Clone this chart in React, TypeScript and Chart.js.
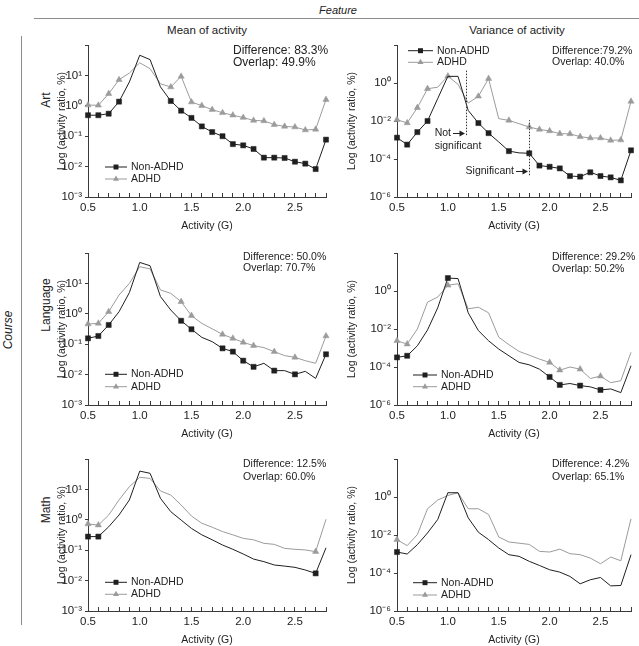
import React, { useEffect, useRef } from 'react';
import { Chart, registerables } from 'chart.js';

Chart.register(...registerables);

const FONT = '"Liberation Sans", Arial, Helvetica, sans-serif';
Chart.defaults.font.family = FONT;
Chart.defaults.color = '#222';

// ---------------- data ----------------
const activity = [0.5, 0.6, 0.7, 0.8, 0.9, 1.0, 1.1, 1.2, 1.3, 1.4, 1.5, 1.6, 1.7, 1.8, 1.9, 2.0, 2.1, 2.2, 2.3, 2.4, 2.5, 2.6, 2.7, 2.8];
const activityLabels = ['0.5', '1.0', '1.5', '2.0', '2.5'];

const seriesNames = ['Non-ADHD', 'ADHD'];
const columnTitles = ['Mean of activity', 'Variance of activity'];
const rowTitles = ['Art', 'Language', 'Math'];

const meanArtNonAdhd = [0.49, 0.49, 0.55, 1.37, 6.1, 46, 33, 4.2, 1.44, 0.69, 0.40, 0.21, 0.137, 0.10, 0.055, 0.050, 0.038, 0.0197, 0.0197, 0.0192, 0.0145, 0.0125, 0.0083, 0.077];
const meanArtAdhd = [1.06, 1.04, 2.5, 7.2, 12, 26, 16.6, 5.3, 4.15, 9.3, 1.33, 1.01, 0.75, 0.59, 0.49, 0.41, 0.33, 0.32, 0.24, 0.21, 0.20, 0.16, 0.168, 1.6];

const varArtNonAdhd = [1.33e-3, 5.7e-4, 2.6e-3, 1.0e-2, 0.15, 2.24, 2.24, 0.036, 7.8e-3, 2.3e-3, 7.9e-4, 2.6e-4, 2.1e-4, 2.0e-4, 4.5e-5, 3.9e-5, 3.2e-5, 1.27e-5, 1.18e-5, 2.0e-5, 1.27e-5, 1.08e-5, 7.5e-6, 2.86e-4];
const varArtAdhd = [0.0117, 7.9e-3, 0.05, 0.5, 0.6, 2.3, 0.85, 0.088, 0.2, 1.7, 0.0133, 0.0108, 7.2e-3, 4.8e-3, 3.6e-3, 3.0e-3, 2.15e-3, 2.1e-3, 1.5e-3, 1.27e-3, 1.27e-3, 9.6e-4, 1.0e-3, 0.108];

const meanLangNonAdhd = [0.156, 0.186, 0.43, 1.17, 5.0, 49, 38, 3.7, 1.33, 0.59, 0.31, 0.168, 0.121, 0.073, 0.057, 0.0287, 0.018, 0.0235, 0.0135, 0.0135, 0.0102, 0.0128, 0.0075, 0.0466];
const meanLangAdhd = [0.46, 0.485, 1.17, 4.15, 10, 35.5, 29.8, 6.1, 4.7, 2.5, 0.87, 0.485, 0.32, 0.21, 0.156, 0.115, 0.09, 0.077, 0.057, 0.042, 0.037, 0.0287, 0.0235, 0.186];

const varLangNonAdhd = [3.2e-4, 3.9e-4, 1.3e-3, 8.9e-3, 0.13, 4.8, 4.5, 0.071, 8.2e-3, 2.4e-3, 8.8e-4, 3.9e-4, 1.74e-4, 1.3e-4, 7.7e-5, 3.0e-5, 1.14e-5, 1.35e-5, 1.05e-5, 9e-6, 6.2e-6, 7e-6, 4.5e-6, 1.16e-4];
const varLangAdhd = [2.4e-3, 1.6e-3, 0.01, 0.26, 0.48, 2.0, 2.4, 0.115, 0.14, 0.071, 3.7e-3, 1.5e-3, 6.6e-4, 4.2e-4, 2.6e-4, 1.74e-4, 6.8e-5, 1.0e-4, 7.7e-5, 2.5e-5, 3.3e-5, 1.5e-5, 1.9e-5, 5.9e-4];

const meanMathNonAdhd = [0.28, 0.28, 0.59, 1.44, 4.5, 40, 33.8, 5.1, 1.85, 0.98, 0.52, 0.32, 0.22, 0.148, 0.107, 0.075, 0.051, 0.042, 0.0326, 0.030, 0.0273, 0.0223, 0.0173, 0.12];
const meanMathAdhd = [0.73, 0.67, 1.44, 4.5, 12.3, 25, 23, 8.9, 6.5, 3.07, 1.33, 0.77, 0.57, 0.41, 0.32, 0.245, 0.22, 0.168, 0.156, 0.115, 0.107, 0.102, 0.0895, 1.04];

const varMathNonAdhd = [1.27e-3, 1.0e-3, 3.1e-3, 0.0128, 0.065, 1.68, 1.68, 0.08, 0.014, 5.7e-3, 2.07e-3, 9.2e-4, 7.5e-4, 4.1e-4, 2.5e-4, 1.48e-4, 1.11e-4, 6.6e-5, 2.7e-5, 4.4e-5, 5.8e-5, 2.1e-5, 2.2e-5, 9.2e-4];
const varMathAdhd = [5.7e-3, 2.75e-3, 0.0105, 0.24, 0.69, 1.2, 1.68, 0.24, 0.24, 0.12, 7.9e-3, 4.3e-3, 3.7e-3, 3.2e-3, 1.38e-3, 1.27e-3, 1.8e-3, 1.04e-3, 9.2e-4, 6.1e-4, 3.07e-4, 6.9e-4, 4.4e-4, 0.071];

const meanTicks = [1e-3, 1e-2, 1e-1, 1, 10, 100];
const varianceTicks = [1e-6, 1e-4, 1e-2, 1, 100];

const differenceTexts = ['Difference: 83.3%', 'Difference:79.2%', 'Difference: 50.0%', 'Difference: 29.2%', 'Difference: 12.5%', 'Difference: 4.2%'];
const overlapTexts = ['Overlap: 49.9%', 'Overlap: 40.0%', 'Overlap: 70.7%', 'Overlap: 50.2%', 'Overlap: 60.0%', 'Overlap: 65.1%'];

// annotation (Art / variance): dotted lines in data coordinates
const noteLineX = [1.18, 1.8];
const noteLineFrom = [1.8e-3, 1.4e-5];
const noteLineTo = [4.6, 0.011];
const noteArrowY = [2.2e-3, 2.2e-5];
const noteTexts = [['Not', 'significant'], ['Significant']];

// ---------------- style / layout ----------------
const NON_COLOR = '#1f1f1f';
const ADHD_COLOR = '#9b9b9b';
const AXIS_COLOR = '#3a3a3a';
const TEXT_COLOR = '#222';
const PLOT_H = 152;
const X_AXIS_H = 36;
const TOP_PAD = 10;

const COLUMNS = [
  { left: 50, width: 290, yAxisWidth: 38, rightPad: 14, min: 1e-3, ticks: meanTicks },
  { left: 340, width: 299, yAxisWidth: 57, rightPad: 3, min: 1e-6, ticks: varianceTicks },
];
const ROWS = [{ plotTop: 45 }, { plotTop: 253 }, { plotTop: 459 }];

const allBut = (skip: number[]) => activity.map((_, i) => i).filter((i) => !skip.includes(i));

const PANELS = [
  {
    col: 0, row: 0, non: meanArtNonAdhd, adhd: meanArtAdhd,
    nonMarks: allBut([4, 5, 6, 7]), adhdMarks: allBut([4, 5, 6, 7]),
    legend: { x0: 105, x1: 127, tx: 131, y: 167, dy: 12 },
    stats: { x: 233, y: 50.7, dy: 11.6, size: 12 }, notes: false,
  },
  {
    col: 1, row: 0, non: varArtNonAdhd, adhd: varArtAdhd,
    nonMarks: [0, 1, 2, 3, 8, 9, 11, 13, 14, 15, 16, 17, 18, 19, 20, 21, 22, 23],
    adhdMarks: [0, 1, 2, 3, 5, 8, 9, 11, 13, 14, 15, 16, 17, 18, 19, 20, 21, 22, 23],
    legend: { x0: 408, x1: 433, tx: 437, y: 50.7, dy: 11.6 },
    stats: { x: 552, y: 50.7, dy: 11.6, size: 10.5 }, notes: true,
  },
  {
    col: 0, row: 1, non: meanLangNonAdhd, adhd: meanLangAdhd,
    nonMarks: [0, 1, 2, 9, 10, 13, 14, 15, 16, 18, 20, 23], adhdMarks: [0, 1, 2, 9, 10, 13, 14, 15, 16, 18, 20, 23],
    legend: { x0: 105, x1: 127, tx: 131, y: 374.3, dy: 12.4 },
    stats: { x: 243, y: 256.7, dy: 11.6, size: 10.5 }, notes: false,
  },
  {
    col: 1, row: 1, non: varLangNonAdhd, adhd: varLangAdhd,
    nonMarks: [0, 1, 5, 15, 16, 18, 20], adhdMarks: [0, 1, 5, 15, 16, 18, 20],
    legend: { x0: 413, x1: 437, tx: 441, y: 375, dy: 11.7 },
    stats: { x: 552, y: 257.3, dy: 12.2, size: 10.5 }, notes: false,
  },
  {
    col: 0, row: 2, non: meanMathNonAdhd, adhd: meanMathAdhd,
    nonMarks: [0, 1, 22], adhdMarks: [0, 1, 22],
    legend: { x0: 105, x1: 127, tx: 131, y: 582.3, dy: 12 },
    stats: { x: 243, y: 464.3, dy: 12.4, size: 10.5 }, notes: false,
  },
  {
    col: 1, row: 2, non: varMathNonAdhd, adhd: varMathAdhd,
    nonMarks: [0], adhdMarks: [0],
    legend: { x0: 413, x1: 437, tx: 441, y: 582.7, dy: 12.3 },
    stats: { x: 552, y: 464.3, dy: 12.4, size: 10.5 }, notes: false,
  },
];

const SUP: Record<string, string> = { '-': '\u207B', '0': '\u2070', '1': '\u00B9', '2': '\u00B2', '3': '\u00B3', '4': '\u2074', '5': '\u2075', '6': '\u2076', '7': '\u2077', '8': '\u2078', '9': '\u2079' };
function powerLabel(v: number) {
  const e = Math.round(Math.log10(v));
  if (e >= 2) return '';
  return '10' + String(e).split('').map((c) => SUP[c]).join('');
}

function drawMarker(ctx: CanvasRenderingContext2D, style: string, x: number, y: number, r: number, color: string) {
  ctx.save();
  ctx.fillStyle = color;
  ctx.beginPath();
  if (style === 'rect') {
    const s = Math.SQRT1_2 * r;
    ctx.rect(x - s, y - s, 2 * s, 2 * s);
  } else {
    let rad = 0;
    ctx.moveTo(x + Math.sin(rad) * r, y - Math.cos(rad) * r);
    rad += (2 * Math.PI) / 3;
    ctx.lineTo(x + Math.sin(rad) * r, y - Math.cos(rad) * r);
    rad += (2 * Math.PI) / 3;
    ctx.lineTo(x + Math.sin(rad) * r, y - Math.cos(rad) * r);
    ctx.closePath();
  }
  ctx.fill();
  ctx.restore();
}

function Panel({ index }: { index: number }) {
  const cfg = PANELS[index];
  const col = COLUMNS[cfg.col];
  const row = ROWS[cfg.row];
  const left = col.left;
  const top = row.plotTop - TOP_PAD;
  const width = col.width;
  const height = TOP_PAD + PLOT_H + X_AXIS_H;
  const ref = useRef<HTMLCanvasElement>(null);

  useEffect(() => {
    const canvas = ref.current;
    if (!canvas) return;

    const extras = {
      id: 'panelExtras',
      afterDraw(chart: any) {
        const ctx: CanvasRenderingContext2D = chart.ctx;
        ctx.save();
        ctx.textBaseline = 'middle';
        ctx.textAlign = 'left';
        ctx.fillStyle = TEXT_COLOR;
        // statistics text
        ctx.font = `${cfg.stats.size}px ${FONT}`;
        ctx.fillText(differenceTexts[index], cfg.stats.x - left, cfg.stats.y - top);
        ctx.fillText(overlapTexts[index], cfg.stats.x - left, cfg.stats.y - top + cfg.stats.dy);
        // legend
        const L = cfg.legend;
        chart.data.datasets.forEach((ds: any, i: number) => {
          const y = L.y - top + i * L.dy;
          ctx.strokeStyle = ds.borderColor;
          ctx.lineWidth = 1;
          ctx.beginPath();
          ctx.moveTo(L.x0 - left, y);
          ctx.lineTo(L.x1 - left, y);
          ctx.stroke();
          drawMarker(ctx, ds.pointStyle, (L.x0 + L.x1) / 2 - left, y, 3.5, ds.borderColor);
          ctx.fillStyle = TEXT_COLOR;
          ctx.font = `10.5px ${FONT}`;
          ctx.fillText(ds.label, L.tx - left, y);
        });
        // annotations
        if (cfg.notes) {
          const xs = chart.scales.x;
          const ys = chart.scales.y;
          noteLineX.forEach((nx, k) => {
            const px = Math.round(xs.getPixelForValue(nx)) + 0.5;
            ctx.strokeStyle = '#333';
            ctx.lineWidth = 1;
            ctx.setLineDash([1.5, 1.5]);
            ctx.beginPath();
            ctx.moveTo(px, ys.getPixelForValue(noteLineFrom[k]));
            ctx.lineTo(px, ys.getPixelForValue(noteLineTo[k]));
            ctx.stroke();
            ctx.setLineDash([]);
            const ay = ys.getPixelForValue(noteArrowY[k]);
            const tip = px - 1.5;
            const start = tip - 12;
            ctx.strokeStyle = '#222';
            ctx.beginPath();
            ctx.moveTo(start, ay);
            ctx.lineTo(tip - 4, ay);
            ctx.stroke();
            ctx.fillStyle = '#222';
            ctx.beginPath();
            ctx.moveTo(tip, ay);
            ctx.lineTo(tip - 5.5, ay - 3);
            ctx.lineTo(tip - 5.5, ay + 3);
            ctx.closePath();
            ctx.fill();
            ctx.font = `10.5px ${FONT}`;
            const lines = noteTexts[k];
            const w0 = ctx.measureText(lines[0]).width;
            ctx.textAlign = 'left';
            ctx.fillText(lines[0], start - 2 - w0, ay);
            if (lines[1]) ctx.fillText(lines[1], start - 2 - w0, ay + 12.5);
          });
        }
        ctx.restore();
      },
    };

    const mkSet = (label: string, values: number[], marks: number[], color: string, style: string) => ({
      label,
      data: activity.map((x, i) => ({ x, y: values[i] })),
      borderColor: color,
      backgroundColor: color,
      pointBackgroundColor: color,
      pointBorderColor: color,
      borderWidth: 1,
      pointBorderWidth: 0.5,
      pointStyle: style,
      pointRadius: activity.map((_, i) => (marks.includes(i) ? 3.6 : 0)),
      pointHoverRadius: 0,
      tension: 0,
      clip: false,
    });

    const chart = new Chart(canvas, {
      type: 'line',
      data: {
        datasets: [
          mkSet(seriesNames[0], cfg.non, cfg.nonMarks, NON_COLOR, 'rect'),
          mkSet(seriesNames[1], cfg.adhd, cfg.adhdMarks, ADHD_COLOR, 'triangle'),
        ] as any,
      },
      options: {
        animation: false,
        responsive: false,
        events: [],
        layout: { padding: { top: TOP_PAD, right: col.rightPad, left: 0, bottom: 0 } },
        plugins: { legend: { display: false }, tooltip: { enabled: false } },
        scales: {
          x: {
            type: 'linear',
            min: 0.5,
            max: 2.8,
            afterBuildTicks: (s: any) => {
              s.ticks = activity.map((v) => ({ value: v }));
            },
            afterFit: (s: any) => {
              s.height = X_AXIS_H;
            },
            grid: { display: true, drawOnChartArea: false, drawTicks: true, tickLength: -4, color: AXIS_COLOR, lineWidth: 1 },
            border: { display: true, color: AXIS_COLOR, width: 1 },
            ticks: {
              autoSkip: false,
              maxRotation: 0,
              padding: 8,
              color: TEXT_COLOR,
              font: { size: 11.5 },
              callback: (v: any) => {
                const t = Number(v).toFixed(1);
                return activityLabels.includes(t) ? t : '';
              },
            },
            title: { display: true, text: 'Activity (G)', color: TEXT_COLOR, font: { size: 10.5 }, padding: { top: 0, bottom: 1 } },
          },
          y: {
            type: 'logarithmic',
            min: col.min,
            max: 100,
            afterBuildTicks: (s: any) => {
              s.ticks = col.ticks.map((v) => ({ value: v }));
            },
            afterFit: (s: any) => {
              s.width = col.yAxisWidth;
            },
            grid: { display: true, drawOnChartArea: false, drawTicks: true, tickLength: 3, color: AXIS_COLOR, lineWidth: 1 },
            border: { display: true, color: AXIS_COLOR, width: 1 },
            ticks: {
              padding: 3,
              color: TEXT_COLOR,
              font: { size: 11.5 },
              callback: (v: any) => powerLabel(Number(v)),
            },
            title: { display: true, text: 'Log (activity ratio, %)', color: TEXT_COLOR, font: { size: 10.5 }, padding: { top: 6, bottom: 0 } },
          },
        },
      } as any,
      plugins: [extras],
    });
    return () => chart.destroy();
  }, []);

  return (
    <div style={{ position: 'absolute', left, top, width, height }}>
      <canvas ref={ref} width={width} height={height} style={{ display: 'block', width, height }} />
    </div>
  );
}

const textBase: React.CSSProperties = {
  position: 'absolute',
  whiteSpace: 'nowrap',
  fontFamily: FONT,
  color: TEXT_COLOR,
  lineHeight: 1,
};

function Label({ x, y, text, size, italic, rotate }: { x: number; y: number; text: string; size: number; italic?: boolean; rotate?: boolean }) {
  return (
    <div
      style={{
        ...textBase,
        left: x,
        top: y,
        fontSize: size,
        fontStyle: italic ? 'italic' : 'normal',
        transform: `translate(-50%, -50%)${rotate ? ' rotate(-90deg)' : ''}`,
      }}
    >
      {text}
    </div>
  );
}

export default function App() {
  return (
    <div style={{ position: 'absolute', left: 0, top: 0, width: 639, height: 646, overflow: 'hidden', background: '#fff' }}>
      <Label x={338} y={10} text="Feature" size={11} italic />
      <div style={{ position: 'absolute', left: 34, top: 18, width: 605, height: 0, borderTop: '1.5px solid #8c8c8c' }} />
      <Label x={207} y={31} text={columnTitles[0]} size={11.5} />
      <Label x={517} y={31} text={columnTitles[1]} size={11.5} />
      <div style={{ position: 'absolute', left: 21, top: 36, width: 0, height: 589, borderLeft: '1.5px solid #8c8c8c' }} />
      <Label x={8} y={330} text="Course" size={12} italic rotate />
      <Label x={46} y={100} text={rowTitles[0]} size={12} rotate />
      <Label x={46} y={305} text={rowTitles[1]} size={12} rotate />
      <Label x={46} y={510} text={rowTitles[2]} size={12} rotate />
      {PANELS.map((_, i) => (
        <Panel key={i} index={i} />
      ))}
    </div>
  );
}
